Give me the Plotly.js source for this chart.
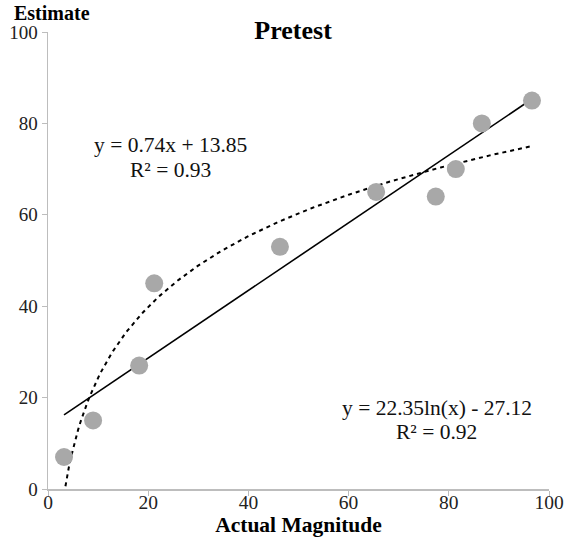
<!DOCTYPE html>
<html>
<head>
<meta charset="utf-8">
<script src="https://cdn.plot.ly/plotly-3.0.1.min.js"></script>
<style>html,body{margin:0;padding:0;background:#fff;}#chart{width:568px;height:545px;}</style>
</head>
<body>
<div id="chart"></div>
<script>
// Data
var actual   = [3.2, 9, 18.2, 21.2, 46.3, 65.5, 77.4, 81.4, 86.6, 96.6];
var estimate = [7, 15, 27, 45, 53, 65, 64, 70, 80, 85];

// Trendline coefficients as displayed on the chart
var linSlope = 0.74, linIntercept = 13.85;
var logCoef = 22.35, logIntercept = -27.12;
var linLabel = ["y = 0.74x + 13.85", "R² = 0.93"];
var logLabel = ["y = 22.35ln(x) - 27.12", "R² = 0.92"];
var tickValues = [0, 20, 40, 60, 80, 100];

var xMin = Math.min.apply(null, actual), xMax = Math.max.apply(null, actual);
var linX = [xMin, xMax];
var linY = linX.map(function(x){ return linSlope * x + linIntercept; });
var logX = [], logY = [];
for (var i = 0; i <= 200; i++) {
  var x = xMin + (xMax - xMin) * i / 200;
  logX.push(x); logY.push(logCoef * Math.log(x) + logIntercept);
}

var serif = "Liberation Serif, Times New Roman, serif";

var traces = [
  {x: logX, y: logY, mode: "lines", line: {color: "#000", width: 2, dash: "4px,4px"}, hoverinfo: "skip"},
  {x: linX, y: linY, mode: "lines", line: {color: "#000", width: 1.6}, hoverinfo: "skip"},
  {x: actual, y: estimate, mode: "markers", marker: {color: "#a8a8a8", size: 18}}
];

function eqNote(text, x, y) {
  return {text: text, xref: "x", yref: "y", x: x, y: y, xanchor: "center", yanchor: "middle",
          showarrow: false, font: {family: serif, size: 21.5, color: "#111"}};
}

var layout = {
  width: 568, height: 545,
  margin: {l: 48, r: 19, t: 32, b: 56},
  showlegend: false,
  paper_bgcolor: "#fff", plot_bgcolor: "#fff",
  font: {family: serif, color: "#222", size: 19},
  title: {text: "<b>Pretest</b>", font: {family: serif, size: 26, color: "#000"}, x: 0.516, xanchor: "center", y: 0.945, yanchor: "middle"},
  xaxis: {
    range: [0, 100], tickvals: tickValues, showgrid: false, zeroline: false,
    showline: true, linecolor: "#bdbdbd", linewidth: 1.5, ticks: "outside", ticklen: 5, tickcolor: "#bdbdbd",
    ticklabelstandoff: -10,
    tickfont: {family: serif, size: 19.5, color: "#222"},
    title: {text: "<b>Actual Magnitude</b>", font: {family: serif, size: 21.5, color: "#000"}, standoff: 0}
  },
  yaxis: {
    range: [0, 100], tickvals: tickValues, showgrid: false, zeroline: false,
    showline: true, linecolor: "#bdbdbd", linewidth: 1.5, ticks: "outside", ticklen: 5, tickcolor: "#bdbdbd",
    tickfont: {family: serif, size: 19, color: "#222"}
  },
  annotations: [
    {text: "<b>Estimate</b>", xref: "paper", yref: "paper", x: -0.07, y: 1.068, xanchor: "left", yanchor: "top", showarrow: false, borderpad: 0, font: {family: serif, size: 20, color: "#000"}},
    eqNote(linLabel[0], 24.5, 75.3),
    eqNote(linLabel[1], 24.5, 69.8),
    eqNote(logLabel[0], 77.6, 17.7),
    eqNote(logLabel[1], 77.6, 12.5)
  ]
};

Plotly.newPlot("chart", traces, layout, {staticPlot: true, displayModeBar: false});
</script>
</body>
</html>
